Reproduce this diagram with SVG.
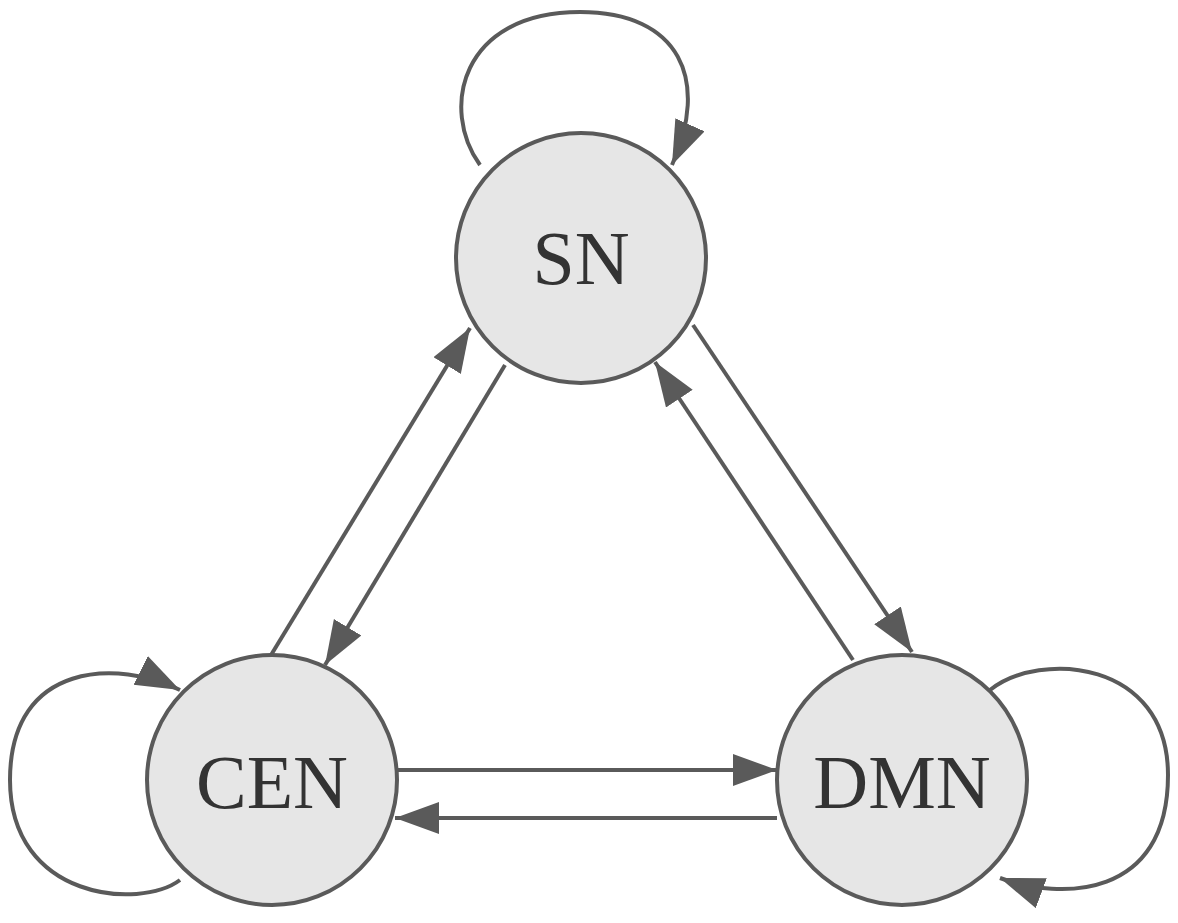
<svg xmlns="http://www.w3.org/2000/svg" width="1178" height="923" viewBox="0 0 1178 923">
<style>
.n{fill:#e6e6e6;stroke:#5a5a5a;stroke-width:4}
.t{font-family:"Liberation Serif",serif;font-size:76px;fill:#333;text-anchor:middle}
.e{fill:none;stroke:#5a5a5a;stroke-width:4;marker-end:url(#a)}
</style>
<defs><marker id="a" markerUnits="userSpaceOnUse" markerWidth="46" markerHeight="34" refX="44" refY="16" orient="auto"><path d="M0,0 L44,16 L0,32 z" fill="#5a5a5a"/></marker></defs>
<rect width="1178" height="923" fill="#fff"/>
<g id="edges">
<path class="e" d="M480,165 C440,110 460,12 580,12 C680,12 710,80 672,165"/>
<path class="e" d="M268,660 L470,328"/>
<path class="e" d="M505,365 L325,665"/>
<path class="e" d="M693,325 L912,652"/>
<path class="e" d="M853,660 L655,362"/>
<path class="e" d="M397,770 L777,770"/>
<path class="e" d="M777,818 L395,818"/>
<path class="e" d="M180,880 C140,910 10,900 10,780 C10,660 120,660 180,690"/>
<path class="e" d="M990,690 C1040,650 1168,660 1168,775 C1168,900 1060,900 1000,878"/>
</g>
<g id="SN"><circle class="n" cx="581" cy="258" r="125"/><text class="t" x="581" y="284">SN</text></g>
<g id="CEN"><circle class="n" cx="272" cy="780" r="125"/><text class="t" x="272" y="808">CEN</text></g>
<g id="DMN"><circle class="n" cx="902" cy="780" r="125"/><text class="t" x="902" y="808">DMN</text></g>
</svg>
